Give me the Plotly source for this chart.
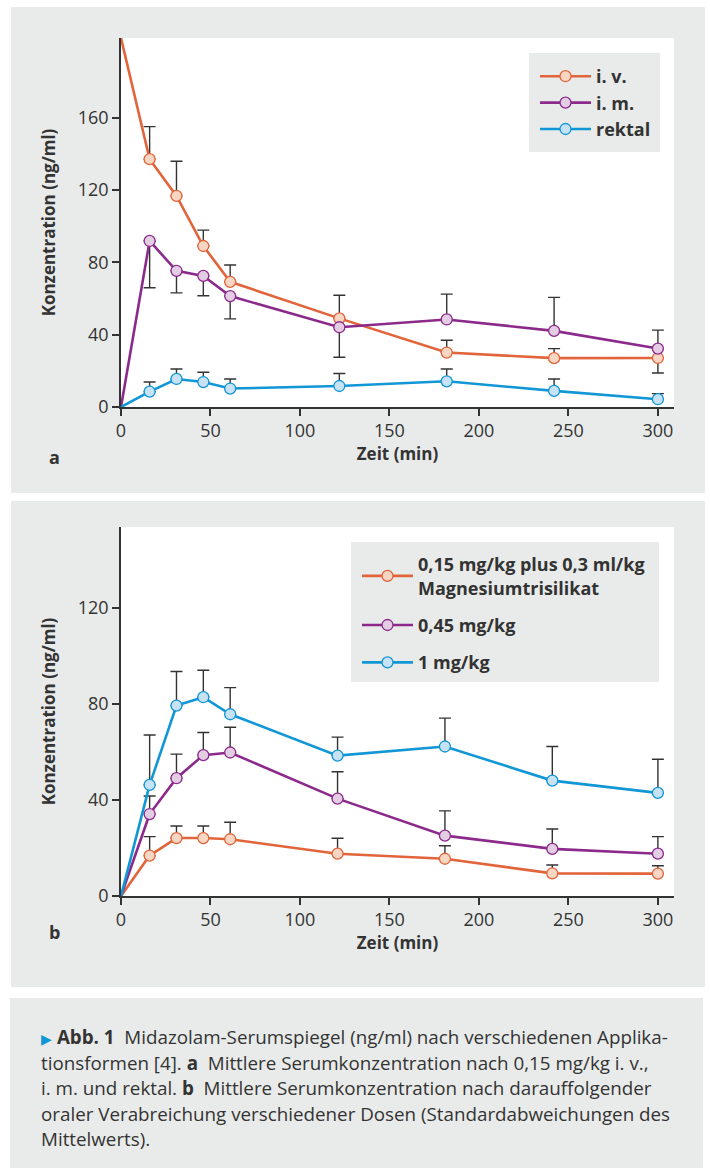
import plotly.graph_objects as go

# ---------------- data ----------------
# Panel a: 0,15 mg/kg i.v., i.m., rektal
t_a = [0, 16, 31, 46, 61, 122, 182, 242, 300]
iv = [204, 137, 116.7, 89, 69.2, 49, 30.1, 27, 27.1]
iv_up = [0, 18, 19.2, 8.8, 9.3, 12.8, 6.8, 5.3, 0]
iv_lo = [0, 0, 0, 0, 0, 0, 0, 0, 8.3]
im = [0, 91.8, 75.3, 72.5, 61.3, 44.1, 48.4, 42.1, 32.3]
im_up = [0, 0, 0, 0, 0, 0, 14, 18.5, 10.2]
im_lo = [0, 25.9, 12.2, 11, 12.6, 16.6, 0, 0, 0]
rek = [0, 8.5, 15.5, 13.8, 10.2, 11.6, 14.2, 8.9, 4.3]
rek_up = [0, 5.3, 5.5, 5.4, 5.3, 6.9, 6.8, 6.6, 3.1]
rek_lo = [0, 0, 0, 0, 0, 0, 0, 0, 0]

# Panel b: orale Dosen
t_b = [0, 16, 31, 46, 61, 121, 181, 241, 300]
d015 = [0, 16.8, 24.1, 24.1, 23.6, 17.6, 15.5, 9.4, 9.3]
d015_up = [0, 7.9, 5.0, 5.0, 7.1, 6.4, 5.4, 3.5, 3.3]
d045 = [0, 34.1, 49.0, 58.6, 59.7, 40.5, 25.1, 19.6, 17.6]
d045_up = [0, 7.5, 10.0, 9.4, 10.5, 11.2, 10.3, 8.3, 7.1]
d1 = [0, 46.2, 79.2, 82.7, 75.6, 58.4, 62.2, 48.0, 42.9]
d1_up = [0, 20.8, 14.2, 11.2, 11.1, 7.7, 11.8, 14.2, 14.0]
zeros = [0, 0, 0, 0, 0, 0, 0, 0, 0]

names_a = ["i. v.", "i. m.", "rektal"]
names_b = ["0,15 mg/kg plus 0,3 ml/kg<br>Magnesiumtrisilikat", "0,45 mg/kg", "1 mg/kg"]
x_ticks = [0, 50, 100, 150, 200, 250, 300]
y_ticks_a = [0, 40, 80, 120, 160]
y_ticks_b = [0, 40, 80, 120]

# ---------------- style ----------------
W, H = 710, 1170
FONT = "Open Sans"
TXT = "#333333"
GRAY = "#e9ebea"
ORANGE, ORANGE_F = "#e2643a", "#f8d6c4"
PURPLE, PURPLE_F = "#8c2a8c", "#e2cde3"
BLUE, BLUE_F = "#1196d6", "#c8e2f5"


def px(x):
    return x / W


def py(y):
    return 1 - y / H


fig = go.Figure()


def add_errors(t, v, up, lo, xa, ya):
    fig.add_trace(go.Scatter(
        x=t[1:], y=v[1:], mode="markers", xaxis=xa, yaxis=ya,
        marker=dict(size=1, opacity=0), showlegend=False, hoverinfo="skip",
        error_y=dict(type="data", symmetric=False, array=up[1:], arrayminus=lo[1:],
                     color=TXT, thickness=1.4, width=6),
    ))


def add_lines(t, v, name, col, fill, xa, ya, legend, group):
    # first segment from t = 0 (no marker there)
    fig.add_trace(go.Scatter(
        x=t[:2], y=v[:2], mode="lines", xaxis=xa, yaxis=ya,
        line=dict(color=col, width=2.6), showlegend=False, hoverinfo="skip",
    ))
    fig.add_trace(go.Scatter(
        x=t[1:], y=v[1:], mode="lines+markers", name=name, xaxis=xa, yaxis=ya,
        legend=legend, legendgroup=group,
        line=dict(color=col, width=2.6),
        marker=dict(size=11, color=fill, line=dict(color=col, width=1.3)),
    ))


series_a = [(iv, iv_up, iv_lo, ORANGE, ORANGE_F), (im, im_up, im_lo, PURPLE, PURPLE_F),
            (rek, rek_up, rek_lo, BLUE, BLUE_F)]
series_b = [(d015, d015_up, zeros, ORANGE, ORANGE_F), (d045, d045_up, zeros, PURPLE, PURPLE_F),
            (d1, d1_up, zeros, BLUE, BLUE_F)]

for (v, up, lo, c, f) in series_a:
    add_errors(t_a, v, up, lo, "x", "y")
for (v, up, lo, c, f) in series_b:
    add_errors(t_b, v, up, lo, "x2", "y2")
for i, ((v, up, lo, c, f), n) in enumerate(zip(series_a, names_a)):
    add_lines(t_a, v, n, c, f, "x", "y", "legend", "a%d" % i)
for i, ((v, up, lo, c, f), n) in enumerate(zip(series_b, names_b)):
    add_lines(t_b, v, n, c, f, "x2", "y2", "legend2", "b%d" % i)

axis_common = dict(
    showline=True, linecolor=TXT, linewidth=1.5, ticks="outside", ticklen=7,
    tickwidth=1.5, tickcolor=TXT, showgrid=False, zeroline=False,
    tickfont=dict(family=FONT, size=18, color=TXT), automargin=False,
)
title_font = dict(family=FONT, size=17, color=TXT, weight="bold")
legend_font = dict(family=FONT, size=18, color=TXT, weight="bold")

xdom = [px(121), px(674)]
fig.update_layout(
    width=W, height=H, margin=dict(l=0, r=0, t=0, b=0),
    paper_bgcolor="white", plot_bgcolor="rgba(0,0,0,0)",
    font=dict(family=FONT, color=TXT),
    xaxis=dict(domain=xdom, range=[0, 309], tickvals=x_ticks, anchor="y",
               title=dict(text="Zeit (min)", font=title_font, standoff=6), **axis_common),
    yaxis=dict(domain=[py(407), py(38)], range=[0, 204], tickvals=y_ticks_a, anchor="x",
               title=dict(text="Konzentration (ng/ml)", font=title_font, standoff=18), **axis_common),
    xaxis2=dict(domain=xdom, range=[0, 309], tickvals=x_ticks, anchor="y2",
                title=dict(text="Zeit (min)", font=title_font, standoff=6), **axis_common),
    yaxis2=dict(domain=[py(896), py(527)], range=[0, 153.5], tickvals=y_ticks_b, anchor="x2",
                title=dict(text="Konzentration (ng/ml)", font=title_font, standoff=18), **axis_common),
    legend=dict(x=px(535), y=py(58), xanchor="left", yanchor="top", bgcolor="rgba(0,0,0,0)",
                font=legend_font, itemwidth=51, traceorder="grouped", tracegroupgap=0),
    legend2=dict(x=px(357), y=py(546), xanchor="left", yanchor="top", bgcolor="rgba(0,0,0,0)",
                 font=legend_font, itemwidth=51, traceorder="grouped", tracegroupgap=11),
    showlegend=True,
)

# background panels and legend boxes
shapes = []
for (x0, y0, x1, y1, c) in [(11, 7, 705, 493, GRAY), (11, 501, 705, 987, GRAY), (10, 998, 703, 1168, GRAY),
                            (121, 38, 674, 407, "white"), (121, 527, 674, 896, "white"),
                            (529, 53, 660, 152, GRAY), (351, 542, 659, 682, GRAY)]:
    shapes.append(dict(type="rect", xref="paper", yref="paper", x0=px(x0), x1=px(x1),
                       y0=py(y1), y1=py(y0), fillcolor=c, line=dict(width=0), layer="below"))
fig.update_layout(shapes=shapes)

# panel labels
for lab, y in [("a", 457), ("b", 946)]:
    fig.add_annotation(text="<b>%s</b>" % lab, xref="paper", yref="paper", x=px(47), y=py(y),
                       showarrow=False, font=dict(family=FONT, size=18, color=TXT))

# caption
caption = [
    "<span style='color:#1196d6;font-size:14px'>▶</span> <b>Abb. 1</b>  Midazolam-Serumspiegel (ng/ml) nach verschiedenen Applika-",
    "tionsformen [4]. <b>a</b>  Mittlere Serumkonzentration nach 0,15 mg/kg i. v.,",
    "i. m. und rektal. <b>b</b>  Mittlere Serumkonzentration nach darauffolgender",
    "oraler Verabreichung verschiedener Dosen (Standardabweichungen des",
    "Mittelwerts).",
]
for i, line in enumerate(caption):
    fig.add_annotation(text=line, xref="paper", yref="paper", x=px(39), y=py(1037 + 25.5 * i),
                       xanchor="left", yanchor="middle", showarrow=False, align="left",
                       font=dict(family=FONT, size=18.8, color=TXT))

fig.write_html("out.html", config={"displayModeBar": False},
               post_script="document.body.style.margin='0';document.body.style.padding='0';")
